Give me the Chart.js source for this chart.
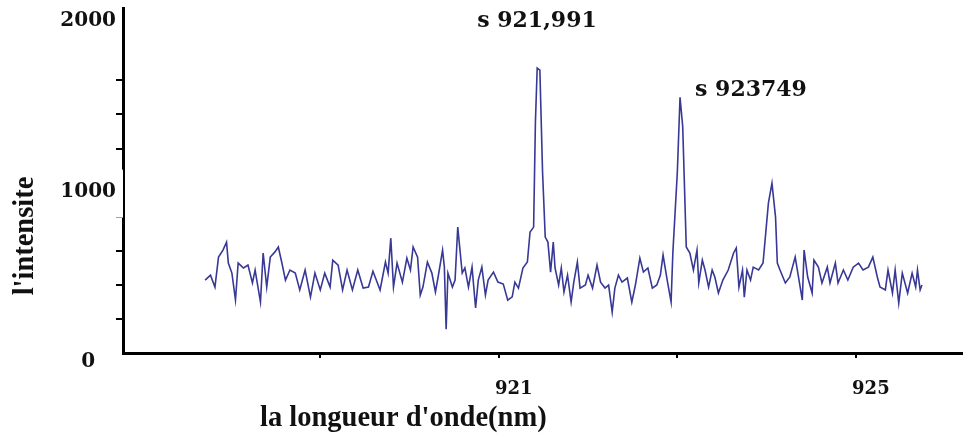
<!DOCTYPE html>
<html>
<head>
<meta charset="utf-8">
<script src="https://cdn.jsdelivr.net/npm/chart.js@4.4.1/dist/chart.umd.min.js"></script>
<style>
  html, body { margin: 0; padding: 0; background: #fff; }
  #chart { display: block; }
</style>
</head>
<body>
<canvas id="chart" width="963" height="437"></canvas>
<script>
// spectrum: wavelength (nm) and intensity
const wavelengths = [
  917.71, 917.77, 917.82, 917.86, 917.91, 917.95, 917.97, 918.01, 918.05, 918.08,
  918.14, 918.19, 918.24, 918.27, 918.33, 918.36, 918.40, 918.44, 918.49, 918.53,
  918.57, 918.61, 918.66, 918.72, 918.77, 918.83, 918.89, 918.94, 919.00, 919.05,
  919.11, 919.14, 919.20, 919.25, 919.30, 919.36, 919.42, 919.48, 919.54, 919.59,
  919.67, 919.73, 919.76, 919.79, 919.82, 919.86, 919.92, 919.97, 920.01, 920.04,
  920.09, 920.12, 920.15, 920.20, 920.25, 920.29, 920.32, 920.37, 920.39, 920.41,
  920.43, 920.48, 920.51, 920.54, 920.59, 920.62, 920.66, 920.70, 920.74, 920.77,
  920.81, 920.85, 920.88, 920.94, 920.99, 921.05, 921.10, 921.15, 921.18, 921.22,
  921.27, 921.32, 921.35, 921.39, 921.41, 921.43, 921.46, 921.49, 921.52, 921.55,
  921.58, 921.61, 921.63, 921.67, 921.70, 921.73, 921.77, 921.81, 921.84, 921.88,
  921.91, 921.97, 922.00, 922.05, 922.10, 922.14, 922.19, 922.23, 922.27, 922.30,
  922.34, 922.38, 922.44, 922.49, 922.53, 922.58, 922.62, 922.67, 922.72, 922.77,
  922.81, 922.84, 922.89, 922.93, 922.95, 923.00, 923.03, 923.06, 923.10, 923.14,
  923.18, 923.22, 923.24, 923.28, 923.31, 923.35, 923.39, 923.42, 923.46, 923.51,
  923.57, 923.63, 923.66, 923.69, 923.73, 923.75, 923.78, 923.82, 923.85, 923.91,
  923.96, 924.00, 924.02, 924.06, 924.10, 924.12, 924.15, 924.21, 924.26, 924.32,
  924.35, 924.40, 924.42, 924.46, 924.51, 924.53, 924.58, 924.62, 924.68, 924.71,
  924.77, 924.80, 924.86, 924.91, 924.97, 925.03, 925.08, 925.14, 925.19, 925.24,
  925.27, 925.33, 925.36, 925.41, 925.44, 925.48, 925.52, 925.58, 925.63, 925.67,
  925.69, 925.72, 925.74
];
const intensities = [
  428, 457, 387, 563, 604, 651, 528, 469, 311, 528,
  499, 516, 411, 487, 299, 587, 387, 563, 592, 622,
  528, 428, 487, 469, 370, 487, 328, 469, 370, 469,
  387, 545, 516, 370, 487, 370, 487, 381, 387, 480,
  370, 534, 469, 674, 387, 528, 416, 557, 487, 622,
  563, 340, 387, 534, 469, 358, 446, 604, 504, 140,
  469, 387, 428, 739, 469, 499, 387, 504, 264, 428,
  504, 340, 428, 475, 416, 405, 310, 330, 416, 381,
  499, 534, 710, 739, 1355, 1672, 1660, 1062, 680, 651,
  475, 651, 499, 399, 499, 358, 457, 299, 416, 534,
  381, 399, 457, 381, 516, 416, 381, 399, 240, 381,
  457, 416, 440, 299, 399, 557, 475, 499, 381, 399,
  457, 575, 416, 299, 592, 1062, 1501, 1330, 622, 587,
  487, 604, 411, 545, 487, 387, 487, 446, 352, 428,
  487, 587, 616, 387, 487, 328, 487, 428, 504, 487,
  528, 762, 880, 997, 798, 528, 487, 411, 446, 563,
  469, 311, 604, 446, 352, 545, 504, 411, 504, 411,
  528, 411, 487, 428, 504, 528, 487, 504, 563, 446,
  387, 370, 487, 352, 487, 293, 469, 352, 469, 387,
  487, 370, 399
];

const xTicks = [919, 921, 923, 925];
const xLabelled = [921, 925];
const yTicks = [0, 200, 400, 600, 800, 1000, 1200, 1400, 1600, 1800, 2000];
const yLabelled = [0, 1000, 2000];
const yHiddenMarks = [0, 1000, 1800, 2000];

const peakNames = ['s 921,991', 's 923749'];
const peakWavelengths = [921.43, 923.03];
const peakIntensities = [1672, 1501];

const xTitle = "la longueur d'onde(nm)";
const yTitle = "l'intensite";

const textPlugin = {
  id: 'texts',
  afterDraw(chart) {
    const ctx = chart.ctx;
    const xs = chart.scales.x;
    const ys = chart.scales.y;

    ctx.save();
    ctx.fillStyle = '#111';
    ctx.font = 'bold 28.5px "Liberation Serif"';
    ctx.textBaseline = 'alphabetic';
    ctx.textAlign = 'left';
    ctx.fillText(xTitle, 260, 426);

    ctx.translate(33, 236);
    ctx.rotate(-Math.PI / 2);
    ctx.textAlign = 'center';
    ctx.fillText(yTitle, 0, 0);
    ctx.restore();

    // peak labels, placed relative to the peak they name
    const offsets = [[-60, -41], [15, -1]];
    ctx.save();
    ctx.fillStyle = '#111';
    ctx.font = 'bold 22px "DejaVu Serif"';
    ctx.textAlign = 'left';
    ctx.textBaseline = 'alphabetic';
    peakNames.forEach((name, i) => {
      const px = xs.getPixelForValue(peakWavelengths[i]) + offsets[i][0];
      const py = ys.getPixelForValue(peakIntensities[i]) + offsets[i][1];
      ctx.fillText(name, px, py);
    });
    ctx.restore();
  }
};

const ctx = document.getElementById('chart').getContext('2d');
const chart = new Chart(ctx, {
  type: 'line',
  data: {
    datasets: [
      {
        data: wavelengths.map((w, i) => ({ x: w, y: intensities[i] })),
        borderColor: '#383896',
        borderWidth: 1.6,
        pointRadius: 0,
        fill: false,
        tension: 0
      }
    ]
  },
  options: {
    responsive: false,
    animation: false,
    layout: { padding: { top: 8, right: 0, left: 0, bottom: 0 } },
    plugins: {
      legend: { display: false },
      tooltip: { enabled: false }
    },
    scales: {
      x: {
        type: 'linear',
        min: 916.79,
        max: 926.2,
        afterBuildTicks: s => { s.ticks = xTicks.map(v => ({ value: v })); },
        afterFit: s => { s.height = 84; s.paddingLeft = 0; s.paddingRight = 0; },
        border: { display: true, color: '#000', width: 3 },
        grid: { drawOnChartArea: false, drawTicks: true, tickLength: 5, color: '#000', lineWidth: 2 },
        ticks: {
          color: '#111',
          font: { family: 'DejaVu Serif', size: 18, weight: 'bold' },
          labelOffset: 15,
          padding: 21,
          maxRotation: 0,
          autoSkip: false,
          callback: v => xLabelled.includes(v) ? String(v) : ''
        }
      },
      y: {
        type: 'linear',
        min: 0,
        max: 2025,
        afterBuildTicks: s => { s.ticks = yTicks.map(v => ({ value: v })); },
        afterFit: s => { s.width = 123; s.paddingTop = 0; s.paddingBottom = 0; },
        border: { display: true, color: '#000', width: 3 },
        grid: {
          drawOnChartArea: false,
          drawTicks: true,
          tickLength: 7,
          lineWidth: 2,
          color: c => yHiddenMarks.includes(c.tick.value) ? 'rgba(0,0,0,0)' : '#000'
        },
        ticks: {
          color: '#111',
          font: { family: 'DejaVu Serif', size: 20, weight: 'bold' },
          labelOffset: 9,
          padding: 0,
          crossAlign: 'center',
          autoSkip: false,
          callback: v => yLabelled.includes(v) ? String(v) : '',
          showLabelBackdrop: c => c.tick && c.tick.value === 1000,
          backdropColor: '#fff',
          backdropPadding: { top: 10, bottom: 14, left: 2, right: 16 }
        }
      }
    }
  },
  plugins: [textPlugin]
});
</script>
</body>
</html>
